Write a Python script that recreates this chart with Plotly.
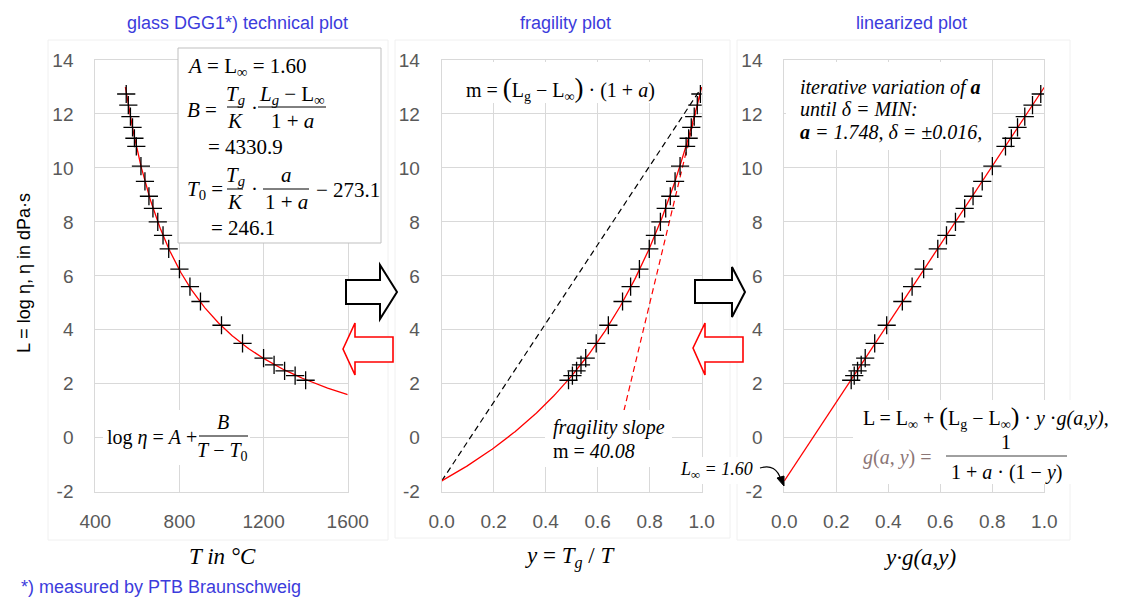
import numpy as np
import plotly.graph_objects as go

W, H = 1126, 598
OFF = 8  # page body margin compensation

T_CELSIUS = [547, 557, 567, 577, 586, 595, 617, 636, 655, 674, 697, 722, 749,
             800, 850, 900, 1000, 1100, 1200, 1250, 1300, 1350, 1400]
L_MEAS = [12.74, 12.33, 11.90, 11.50, 11.10, 10.80, 10.07, 9.50, 8.95, 8.50, 8.00, 7.50, 7.00,
          6.25, 5.60, 5.05, 4.17, 3.50, 2.95, 2.70, 2.48, 2.30, 2.13]

# ---- fit parameters shown in the chart ----
L_INF = -1.60
B_VFT = 4330.9
T0_VFT = 246.1
A_FRAG = 1.748
TG_K = 816.0
L_G = 12.99
M_SLOPE = 40.08
K_OFFSET = 273.1
T_MAX = 1600
L_TANGENT_START = 1.0

# ---- tick labels ----
X1_TICKS = [400, 800, 1200, 1600]
X1_LABELS = ['400', '800', '1200', '1600']
Y_TICKS = [-2, 0, 2, 4, 6, 8, 10, 12, 14]
Y_LABELS = ['-2', '0', '2', '4', '6', '8', '10', '12', '14']
X23_TICKS = [0.0, 0.2, 0.4, 0.6, 0.8, 1.0]
X23_LABELS = ['0.0', '0.2', '0.4', '0.6', '0.8', '1.0']

# ---- derived coordinates ----
T_arr = np.array(T_CELSIUS, dtype=float)
L_arr = np.array(L_MEAS)
y_frag = TG_K / (T_arr + K_OFFSET)
x_lin = y_frag / (1 + A_FRAG * (1 - y_frag))

T_curve = np.linspace(TG_K - K_OFFSET, T_MAX, 300)
L_curve1 = L_INF + B_VFT / (T_curve - T0_VFT)
y_curve = np.linspace(0, 1, 300)
L_curve2 = L_INF + (L_G - L_INF) * y_curve / (1 + A_FRAG * (1 - y_curve))
x_line3 = np.array([0.0, 1.0])
L_line3 = L_INF + (L_G - L_INF) * x_line3
y_tan = np.array([1 - (L_G - L_TANGENT_START) / M_SLOPE, 1.0])
L_tan = L_G + M_SLOPE * (y_tan - 1)

RED = '#ff0000'
BLUE = '#3c3cdc'
GRID = '#d9d9d9'
TICKFONT = dict(family='Liberation Sans Narrow, Arial Narrow, Liberation Sans, Arial, sans-serif',
                size=19, color='#595959')
SERIF = 'Liberation Serif, Times New Roman, serif'

fig = go.Figure()
marker = dict(symbol='cross-thin', size=13, color='black', line=dict(width=1.3, color='black'))

# left: technical plot
fig.add_trace(go.Scatter(x=T_curve, y=L_curve1, mode='lines', line=dict(color=RED, width=1.3),
                         xaxis='x', yaxis='y', hoverinfo='skip'))
fig.add_trace(go.Scatter(x=T_arr, y=L_arr, mode='markers', marker=marker, xaxis='x', yaxis='y'))
# middle: fragility plot
fig.add_trace(go.Scatter(x=[0, 1], y=[L_INF, L_G], mode='lines',
                         line=dict(color='black', width=1.2, dash='6px,4px'), xaxis='x2', yaxis='y2'))
fig.add_trace(go.Scatter(x=y_tan, y=L_tan, mode='lines',
                         line=dict(color=RED, width=1.2, dash='6px,4px'), xaxis='x2', yaxis='y2'))
fig.add_trace(go.Scatter(x=y_curve, y=L_curve2, mode='lines', line=dict(color=RED, width=1.3),
                         xaxis='x2', yaxis='y2'))
fig.add_trace(go.Scatter(x=y_frag, y=L_arr, mode='markers', marker=marker, xaxis='x2', yaxis='y2'))
# right: linearized plot
fig.add_trace(go.Scatter(x=x_line3, y=L_line3, mode='lines', line=dict(color=RED, width=1.3),
                         xaxis='x3', yaxis='y3'))
fig.add_trace(go.Scatter(x=x_lin, y=L_arr, mode='markers', marker=marker, xaxis='x3', yaxis='y3'))


def px(x):
    return (x - OFF) / W


def py(y):
    return 1 - (y - OFF) / H


YDOM = [py(491.7), py(60)]
ax_common = dict(showgrid=True, gridcolor=GRID, gridwidth=1, zeroline=False, showline=True,
                 linecolor=GRID, linewidth=1, mirror=True, ticks='', tickfont=TICKFONT,
                 automargin=False, fixedrange=True)

fig.update_layout(
    template='none',
    width=W, height=H, margin=dict(l=0, r=0, t=0, b=0, pad=0, autoexpand=False),
    plot_bgcolor='white', paper_bgcolor='white', showlegend=False,
    xaxis=dict(domain=[px(95.3), px(347.7)], range=[400, 1600], tickvals=X1_TICKS, ticktext=X1_LABELS,
               anchor='y', ticklabelstandoff=12, **ax_common),
    yaxis=dict(domain=YDOM, range=[-2, 14], tickvals=Y_TICKS, ticktext=Y_LABELS, anchor='x',
               ticklabelstandoff=17, **ax_common),
    xaxis2=dict(domain=[px(441.7), px(701.7)], range=[0, 1], tickvals=X23_TICKS, ticktext=X23_LABELS,
                anchor='y2', ticklabelstandoff=12, **ax_common),
    yaxis2=dict(domain=YDOM, range=[-2, 14], tickvals=Y_TICKS, ticktext=Y_LABELS, anchor='x2',
                ticklabelstandoff=17, **ax_common),
    xaxis3=dict(domain=[px(784.3), px(1044.3)], range=[0, 1], tickvals=X23_TICKS, ticktext=X23_LABELS,
                anchor='y3', ticklabelstandoff=12, **ax_common),
    yaxis3=dict(domain=YDOM, range=[-2, 14], tickvals=Y_TICKS, ticktext=Y_LABELS, anchor='x3',
                ticklabelstandoff=17, **ax_common),
)

shapes = []


def rect(x0, y0, x1, y1, fill='white', line=None, lw=1):
    shapes.append(dict(type='rect', xref='paper', yref='paper', x0=px(x0), x1=px(x1),
                       y0=py(y1), y1=py(y0), fillcolor=fill, layer='above',
                       line=dict(width=lw if line else 0, color=line or 'rgba(0,0,0,0)')))


def hline(x0, x1, y, color='black', lw=1):
    shapes.append(dict(type='line', xref='paper', yref='paper', x0=px(x0), x1=px(x1),
                       y0=py(y), y1=py(y), layer='above', line=dict(color=color, width=lw)))


def poly(points, color, lw, fill='white', closed=True):
    d = 'M ' + ' L '.join(f'{px(x):.5f},{py(y):.5f}' for x, y in points)
    if closed:
        d += ' Z'
    shapes.append(dict(type='path', xref='paper', yref='paper', path=d, layer='above',
                       fillcolor=fill, line=dict(color=color, width=lw)))


# faint chart-area borders
for (a0, b0, a1, b1) in [(48, 40, 388, 540), (395, 40, 730, 538), (737, 40, 1070, 540)]:
    shapes.append(dict(type='rect', xref='paper', yref='paper', x0=px(a0), x1=px(a1),
                       y0=py(b1), y1=py(b0), layer='below', line=dict(color='#f0f0f0', width=1)))

# white text backgrounds
rect(103, 410, 250, 465)
rect(445, 62, 668, 103)
rect(545, 410, 672, 467)
rect(676, 457, 760, 484)
rect(786, 62, 992, 150)
rect(853, 400, 1126, 484)
# parameter box
rect(178, 48, 381, 243, line='#bfbfbf', lw=1)

# arrows
poly([(346, 280), (380, 280), (380, 265), (397, 292), (380, 319), (380, 304), (346, 304)], 'black', 2)
poly([(695, 280), (732, 280), (732, 267), (745, 292), (732, 317), (732, 303), (695, 303)], 'black', 2)
poly([(343, 349), (355, 323), (355, 337), (393, 337), (393, 362), (355, 362), (355, 375)], RED, 1.6)
poly([(693, 348), (705, 323), (705, 337), (743, 337), (743, 362), (705, 362), (705, 375)], RED, 1.6)

# curved pointer for L_inf
shapes.append(dict(type='path', xref='paper', yref='paper', layer='above',
                   path=f'M {px(760)},{py(468)} Q {px(776)},{py(463)} {px(781)},{py(480)}',
                   line=dict(color='black', width=1.2)))
poly([(777, 478), (784, 486), (784, 476)], 'black', 1, fill='black')

# fraction bars
hline(227, 243, 107)
hline(258, 326, 107)
hline(227, 243, 189)
hline(263, 309, 189)
hline(199, 248, 436)
hline(946, 1067, 456, color='#404040')

fig.update_layout(shapes=shapes)

ann = []


def txt(x, y, text, size=21, family=SERIF, color='black', xanchor='left', bg=None, angle=0):
    d = dict(xref='paper', yref='paper', x=px(x), y=py(y), text=text, showarrow=False,
             xanchor=xanchor, yanchor='middle', font=dict(family=family, size=size, color=color),
             borderpad=0, textangle=angle)
    if bg:
        d['bgcolor'] = bg
    ann.append(d)


SANS = 'Liberation Sans, Arial, sans-serif'
# titles
txt(237, 23, 'glass DGG1*) technical plot', size=18, family=SANS, color=BLUE, xanchor='center')
txt(565, 23, 'fragility plot', size=18, family=SANS, color=BLUE, xanchor='center')
txt(911, 23, 'linearized plot', size=18, family=SANS, color=BLUE, xanchor='center')
txt(20, 587, '*) measured by PTB Braunschweig', size=18, family=SANS, color=BLUE)
txt(24, 273, 'L = log η, η in dPa·s', size=18, family=SANS, xanchor='center', angle=-90)

# axis titles
txt(222, 556, '<i>T in °C</i>', size=23, xanchor='center')
txt(570, 557, '<i>y</i> = <i>T<sub>g</sub></i> / <i>T</i>', size=23, xanchor='center')
txt(920, 557, '<i>y·g(a,y)</i>', size=23, xanchor='center')

# parameter box contents
txt(186, 67, '<i>A</i> = L<sub>∞</sub> = 1.60')
txt(186, 110, '<i>B</i> =')
txt(235, 95, '<i>T<sub>g</sub></i>', xanchor='center')
txt(235, 121, '<i>K</i>', xanchor='center')
txt(250, 108, '·')
txt(292, 95, '<i>L<sub>g</sub></i> − L<sub>∞</sub>', xanchor='center')
txt(292, 121, '1 + <i>a</i>', xanchor='center')
txt(207, 147, '= 4330.9')
txt(186, 190, '<i>T</i><sub>0</sub> =')
txt(235, 176, '<i>T<sub>g</sub></i>', xanchor='center')
txt(235, 202, '<i>K</i>', xanchor='center')
txt(250, 189, '·')
txt(286, 175, '<i>a</i>', xanchor='center')
txt(286, 202, '1 + <i>a</i>', xanchor='center')
txt(315, 190, '− 273.1')
txt(210, 228, '= 246.1')

# VFT equation
txt(106, 437, 'log <i>η</i> = <i>A</i> +', size=20)
txt(223, 422, '<i>B</i>', size=20, xanchor='center')
txt(223, 452, '<i>T</i> − <i>T</i><sub>0</sub>', size=20, xanchor='center')

# fragility annotations
txt(560, 88, "m = <span style='font-size:27px'>(</span>L<sub>g</sub> − L<sub>∞</sub>"
             "<span style='font-size:27px'>)</span> · (1 + <i>a</i>)", size=20, xanchor='center')
txt(552, 427, '<i>fragility slope</i>', size=20)
txt(552, 451, 'm = <i>40.08</i>', size=20)
txt(679, 470, '<i>L<sub>∞</sub> = 1.60</i>', size=18)

# linearized annotations
txt(799, 87, '<i>iterative variation of <b>a</b></i>', size=20)
txt(799, 109, '<i>until δ = MIN:</i>', size=20)
txt(799, 132, '<i><b>a</b> = 1.748, δ = ±0.016,</i>', size=20)
txt(862, 417, "L = L<sub>∞</sub> + <span style='font-size:26px'>(</span>L<sub>g</sub> − L<sub>∞</sub>"
              "<span style='font-size:26px'>)</span> · <i>y</i> ·<i>g(a,y)</i>,", size=20)
txt(862, 457, '<i>g</i>(<i>a</i>, <i>y</i>) =', size=20, color='#8c7676')
txt(1006, 442, '1', size=20, xanchor='center')
txt(1006, 472, '1 + <i>a</i> · (1 − <i>y</i>)', size=20, xanchor='center')

fig.update_layout(annotations=ann)
fig.write_html('out.html')
